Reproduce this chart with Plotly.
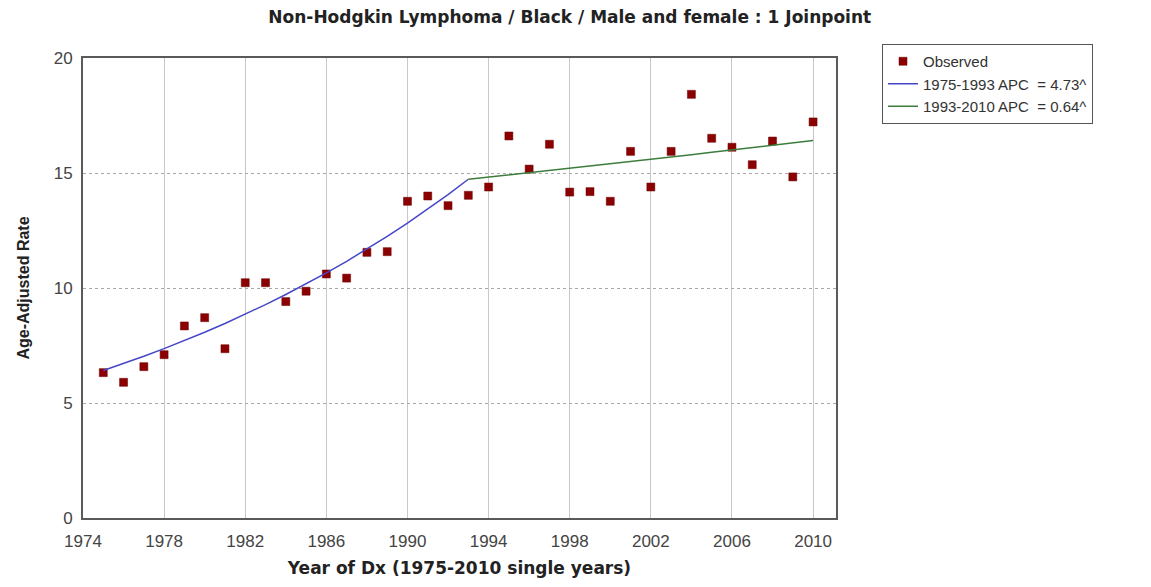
import plotly.graph_objects as go

# Observed age-adjusted rates, Non-Hodgkin Lymphoma, Black, both sexes
years = list(range(1975, 2011))
observed = [6.32, 5.90, 6.58, 7.10, 8.35, 8.71, 7.36, 10.23, 10.23, 9.41,
            9.86, 10.61, 10.43, 11.55, 11.58, 13.77, 14.00, 13.58, 14.03, 14.39,
            16.61, 15.17, 16.25, 14.17, 14.19, 13.77, 15.94, 14.39, 15.94, 18.42,
            16.51, 16.12, 15.36, 16.39, 14.83, 17.22]

# Joinpoint model: fitted rate at 1975, joinpoint year and segment APCs
fit_start_year = 1975
fit_start_rate = 6.41
joinpoint_year = 1993
end_year = 2010
apc_seg1 = 4.73
apc_seg2 = 0.64

seg1_years = list(range(fit_start_year, joinpoint_year + 1))
seg1_fit = [fit_start_rate * (1 + apc_seg1 / 100) ** (y - fit_start_year) for y in seg1_years]
seg2_years = list(range(joinpoint_year, end_year + 1))
seg2_fit = [seg1_fit[-1] * (1 + apc_seg2 / 100) ** (y - joinpoint_year) for y in seg2_years]

x_ticks = list(range(1974, 2011, 4))
y_ticks = [0, 5, 10, 15, 20]

fig = go.Figure()
fig.add_trace(go.Scatter(
    x=years, y=observed, mode="markers", name="Observed",
    marker=dict(symbol="square", size=8, color="#8b0000",
                line=dict(color="#6a0000", width=0.5)),
))
fig.add_trace(go.Scatter(
    x=seg1_years, y=seg1_fit, mode="lines",
    name="1975-1993 APC \u00a0= 4.73^",
    line=dict(color="#4646c8", width=1.5),
))
fig.add_trace(go.Scatter(
    x=seg2_years, y=seg2_fit, mode="lines",
    name="1993-2010 APC \u00a0= 0.64^",
    line=dict(color="#3c7d3c", width=1.5),
))

fig.update_layout(
    width=1151, height=587,
    margin=dict(l=83, r=315, t=58, b=69),
    paper_bgcolor="white", plot_bgcolor="white",
    title=dict(
        text="<b>Non-Hodgkin Lymphoma / Black / Male and female : 1 Joinpoint</b>",
        x=0.495, xanchor="center", y=1 - 17 / 587, yanchor="middle",
        font=dict(family="DejaVu Sans", size=17, color="#222"),
    ),
    showlegend=True,
    legend=dict(
        x=(882 - 83) / 753, xanchor="left",
        y=(518 - 44) / 460, yanchor="top",
        bordercolor="#555", borderwidth=1, bgcolor="white",
        font=dict(family="Liberation Sans", size=15, color="#333"),
        tracegroupgap=0, itemwidth=30,
    ),
    xaxis=dict(
        range=[1974, 2011.13],
        tickvals=x_ticks, ticktext=[str(t) for t in x_ticks],
        showgrid=True, gridcolor="#c8c8c8", gridwidth=1,
        showline=True, linecolor="#5a5a5a", linewidth=2, mirror=True,
        ticks="", ticklabelstandoff=7,
        tickfont=dict(family="Liberation Sans", size=17, color="#444"),
        zeroline=False,
        title=dict(text="<b>Year of Dx (1975-2010 single years)</b>",
                   font=dict(family="DejaVu Sans", size=17, color="#222"),
                   standoff=12),
    ),
    yaxis=dict(
        range=[0, 20],
        tickvals=y_ticks,
        showgrid=True, gridcolor="#a8a8a8", gridwidth=1, griddash="dot",
        showline=True, linecolor="#5a5a5a", linewidth=2, mirror=True,
        ticks="", ticklabelstandoff=5,
        tickfont=dict(family="Liberation Sans", size=17, color="#444"),
        zeroline=False,
        title=dict(text="<b>Age-Adjusted Rate</b>",
                   font=dict(family="Liberation Sans", size=16, color="#222"),
                   standoff=20),
    ),
)

fig.write_html("out.html")
